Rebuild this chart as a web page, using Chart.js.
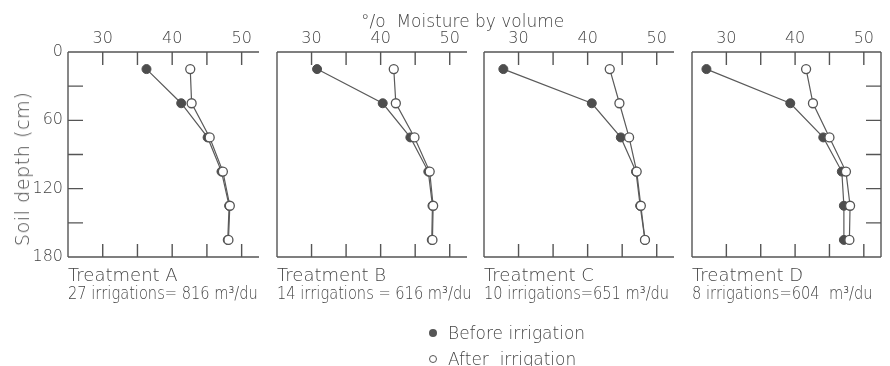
<!DOCTYPE html>
<html><head><meta charset="utf-8">
<script src="https://cdn.jsdelivr.net/npm/chart.js@4"></script>
<style>
html,body{margin:0;padding:0;background:#fff;width:890px;height:366px;overflow:hidden}
#wrap{position:relative;width:890px;height:366px}
canvas{position:absolute;left:0;top:0}
.t{position:absolute;font-family:"DejaVu Sans";color:#444;white-space:nowrap;font-weight:200;font-size:17px;line-height:20px}
.cap1{font-size:18px}
.cap2{font-size:17px;transform:scaleX(0.86);transform-origin:0 50%}
.dot{position:absolute;width:8px;height:8px;border-radius:50%;box-sizing:border-box}
</style></head><body>
<div id="wrap">
<canvas id="c0" width="890" height="366"></canvas>
<canvas id="c1" width="890" height="366"></canvas>
<canvas id="c2" width="890" height="366"></canvas>
<canvas id="c3" width="890" height="366"></canvas>
<div class="t" id="xtitle" style="left:361px;top:11px;">°/o&nbsp; Moisture by volume</div>
<div class="t" id="ytitle" style="left:22px;top:169px;font-size:19px;letter-spacing:0.6px;transform:translate(-50%,-50%) rotate(-90deg);">Soil depth (cm)</div>
<div class="t cap1" style="left:68px;top:265px">Treatment A</div>
<div class="t cap2" style="left:68px;top:283px">27 irrigations= 816 m³/du</div>
<div class="t cap1" style="left:277px;top:265px">Treatment B</div>
<div class="t cap2" style="left:277px;top:283px">14 irrigations = 616 m³/du</div>
<div class="t cap1" style="left:484px;top:265px">Treatment C</div>
<div class="t cap2" style="left:484px;top:283px">10 irrigations=651 m³/du</div>
<div class="t cap1" style="left:692px;top:265px">Treatment D</div>
<div class="t cap2" style="left:692px;top:283px">8 irrigations=604&nbsp; m³/du</div>
<div class="dot" style="left:429px;top:329px;background:#555;"></div>
<div class="t" style="left:448px;top:323px">Before irrigation</div>
<div class="dot" style="left:429px;top:355px;background:#fff;border:1.3px solid #555;"></div>
<div class="t" style="left:448px;top:349px">After&nbsp; irrigation</div>
</div>
<script>
// ---- data ----
const depths = [15, 45, 75, 105, 135, 165];
const beforeA = [36.3, 41.3, 45.1, 47.1, 48.2, 48.0];
const afterA  = [42.6, 42.8, 45.4, 47.3, 48.3, 48.1];
const beforeB = [30.8, 40.3, 44.3, 46.9, 47.5, 47.4];
const afterB  = [41.9, 42.2, 44.9, 47.1, 47.6, 47.5];
const beforeC = [27.8, 40.6, 44.8, 47.0, 47.6, 48.3];
const afterC  = [43.2, 44.6, 46.0, 47.1, 47.7, 48.3];
const beforeD = [27.1, 39.3, 44.1, 46.8, 47.1, 47.1];
const afterD  = [41.6, 42.6, 45.0, 47.4, 48.0, 47.9];
const xTickLabels = [30, 40, 50];
const xTickMarks = [30, 35, 40, 45, 50];
const yTickLabels = [0, 60, 120, 180];
const yTickMarks = [30, 60, 90, 120, 150];

// ---- layout ----
const panelLeft = [68, 277, 484, 692];
const panelRight = [259, 467, 674, 881];
const areaTop = 52, areaBottom = 257, W = 890, H = 366;
const yAxisW = 40, xAxisH = 30;
const FONT = 'DejaVu Sans';
const befores = [beforeA, beforeB, beforeC, beforeD];
const afters = [afterA, afterB, afterC, afterD];

function framePlugin(i) {
  return {
    id: 'frame' + i,
    beforeDatasetsDraw(chart) {
      const {ctx, chartArea: {left, right, top, bottom}, scales: {x, y}} = chart;
      ctx.save();
      ctx.strokeStyle = '#555';
      ctx.lineWidth = 1.4;
      ctx.beginPath();
      ctx.moveTo(left, top); ctx.lineTo(right, top);
      ctx.moveTo(left, top); ctx.lineTo(left, bottom);
      ctx.moveTo(left, bottom); ctx.lineTo(right, bottom);
      if (i === 3) { ctx.moveTo(right, top); ctx.lineTo(right, bottom); }
      xTickMarks.forEach(v => {
        const px = x.getPixelForValue(v);
        ctx.moveTo(px, top); ctx.lineTo(px, top + 13);
        ctx.moveTo(px, bottom); ctx.lineTo(px, bottom - 13);
      });
      yTickMarks.forEach(v => {
        const py = y.getPixelForValue(v);
        if (i === 0) { ctx.moveTo(left, py); ctx.lineTo(left + 15, py); }
        if (i === 3) { ctx.moveTo(right, py); ctx.lineTo(right - 15, py); }
      });
      ctx.stroke();
      ctx.restore();
    }
  };
}

for (let i = 0; i < 4; i++) {
  const mk = arr => depths.map((d, j) => ({x: arr[j], y: d}));
  new Chart(document.getElementById('c' + i), {
    type: 'scatter',
    data: {
      datasets: [
        {label: 'After irrigation', data: mk(afters[i]), showLine: true,
         borderColor: '#5a5a5a', borderWidth: 1.2, pointRadius: 4.5,
         pointBackgroundColor: '#fff', pointBorderColor: '#555', pointBorderWidth: 1.3, order: 0},
        {label: 'Before irrigation', data: mk(befores[i]), showLine: true,
         borderColor: '#5a5a5a', borderWidth: 1.2, pointRadius: 4.5,
         pointBackgroundColor: '#4d4d4d', pointBorderColor: '#4d4d4d', pointBorderWidth: 1, order: 1}
      ]
    },
    options: {
      responsive: false, animation: false, devicePixelRatio: 1,
      layout: {padding: {left: panelLeft[i] - yAxisW, right: W - panelRight[i], top: areaTop - xAxisH, bottom: H - areaBottom}},
      plugins: {legend: {display: false}, tooltip: {enabled: false}},
      scales: {
        x: {type: 'linear', position: 'top', min: 25, max: 52.5,
            grid: {display: false, drawTicks: false}, border: {display: false},
            ticks: {font: {family: FONT, size: 16, weight: 200}, color: '#444', padding: 4},
            afterBuildTicks: s => { s.ticks = xTickLabels.map(v => ({value: v})); },
            afterFit: s => { s.height = xAxisH; }},
        y: {type: 'linear', position: 'left', reverse: true, min: 0, max: 180,
            grid: {display: false, drawTicks: false}, border: {display: false},
            ticks: {display: i === 0, font: {family: FONT, size: 16, weight: 200}, color: '#444', padding: 5},
            afterBuildTicks: s => { s.ticks = yTickLabels.map(v => ({value: v})); },
            afterFit: s => { s.width = yAxisW; }}
      }
    },
    plugins: [framePlugin(i)]
  });
}
</script>
</body></html>
